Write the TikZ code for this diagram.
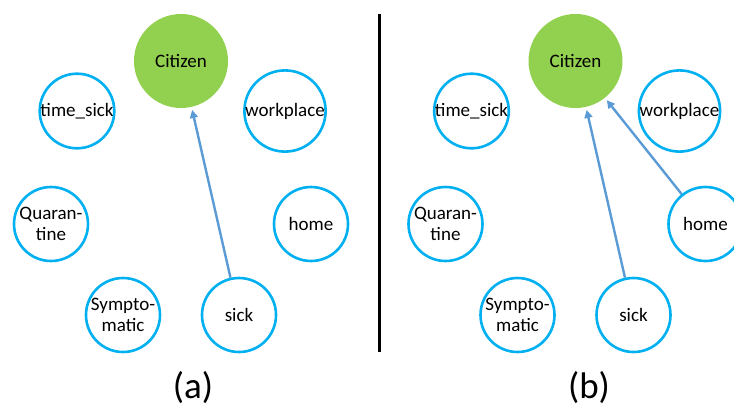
\documentclass[tikz,border=0pt]{standalone}
\usepackage{fontspec}
\setmainfont{Carlito}
\usetikzlibrary{arrows.meta}
\definecolor{ringblue}{HTML}{00B0F0}
\definecolor{leafgreen}{HTML}{92D050}
\definecolor{arrowblue}{HTML}{5B9BD5}
\tikzset{
	varnode/.style={circle, draw=ringblue, line width=2.6pt, fill=white, minimum size=74pt, inner sep=0pt, align=center, font=\fontsize{19}{21}\selectfont},
	citnode/.style={circle, fill=leafgreen, minimum size=94pt, inner sep=0pt, font=\fontsize{19}{21}\selectfont},
	edge/.style={draw=arrowblue, line width=2.4pt, shorten >=3pt, -{Triangle[length=8pt,width=8pt]}},
	caption/.style={inner sep=0pt, font=\fontsize{37}{39}\selectfont}
}

\begin{document}
\begin{tikzpicture}[x=1pt, y=-1pt]
		%%%%% START %%%%%
		\useasboundingbox (0, 0) rectangle (734, 410);
		
		% panel (a)
		\node[citnode] (cita) at (181, 61) {Citizen};
		\node[varnode] (timea) at (77, 111) {time\_sick};
		\node[varnode] (worka) at (285, 111) {workplace};
		\node[varnode] (quara) at (51, 224) {Quaran-\\tine};
		\node[varnode] (homea) at (311, 224) {home};
		\node[varnode] (sympa) at (123, 315) {Sympto-\\matic};
		\node[varnode] (sicka) at (239, 315) {sick};
		\node[caption] (capa) at (193, 388) {(a)};
		
		\draw[edge] (sicka) -- (cita);
		
		% divider
		\draw[line width=3pt] (379, 14) -- (379, 352);
		
		% panel (b)
		\node[citnode] (citb) at (575.5, 61) {Citizen};
		\node[varnode] (timeb) at (471.5, 111) {time\_sick};
		\node[varnode] (workb) at (679.5, 111) {workplace};
		\node[varnode] (quarb) at (445.5, 224) {Quaran-\\tine};
		\node[varnode] (homeb) at (705.5, 224) {home};
		\node[varnode] (sympb) at (517.5, 315) {Sympto-\\matic};
		\node[varnode] (sickb) at (633.5, 315) {sick};
		\node[caption] (capb) at (589, 388) {(b)};
		
		\draw[edge] (sickb) -- (citb);
		\draw[edge] (homeb) -- (citb);
		
		%%%%% END %%%%%
	\end{tikzpicture}
\end{document}
